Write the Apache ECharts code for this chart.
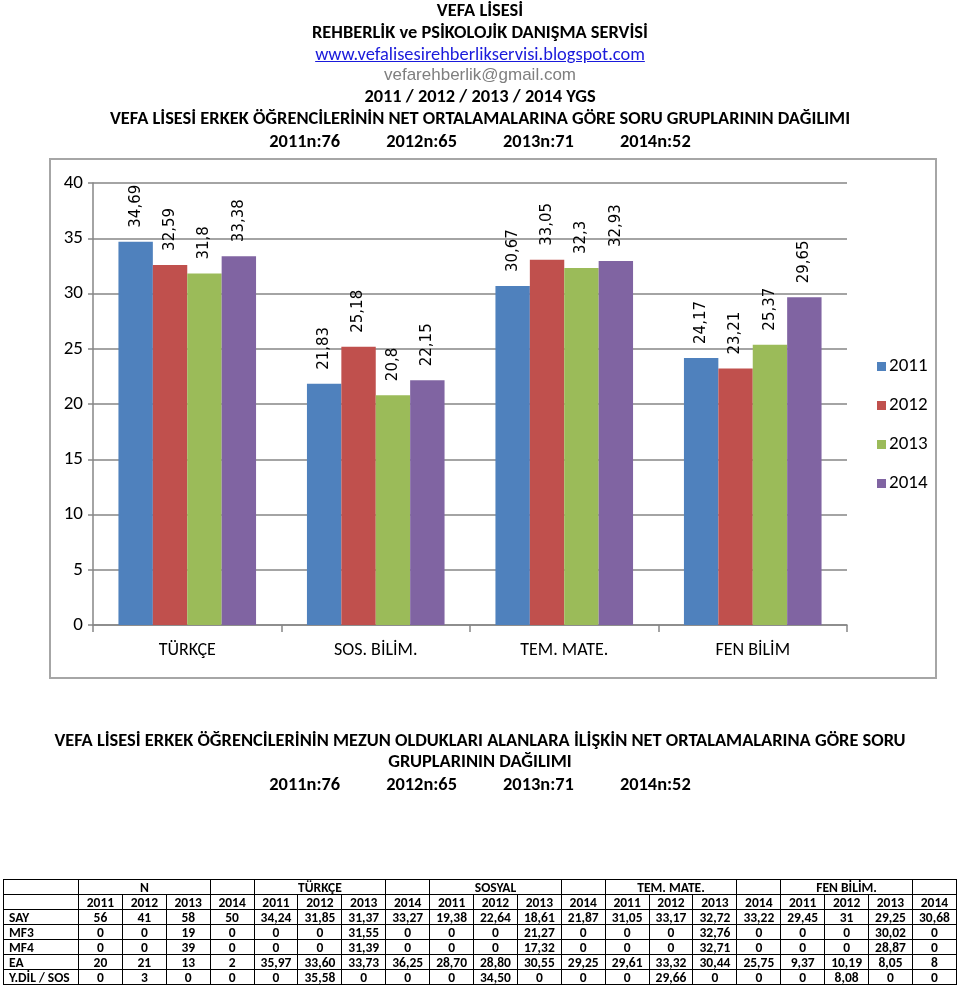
<!DOCTYPE html>
<html><head><meta charset="utf-8">
<script src="https://cdn.jsdelivr.net/npm/echarts@6/dist/echarts.min.js"></script>
<style>
html,body{margin:0;padding:0;background:#fff;}
body{width:960px;height:986px;position:relative;overflow:hidden;font-family:Carlito,"Liberation Sans Narrow","Open Sans",sans-serif;}
#chart{position:absolute;left:0;top:0;width:960px;height:986px;}
.t{position:absolute;left:0;width:960px;text-align:center;font-weight:bold;font-size:18.4px;color:#000;white-space:nowrap;line-height:20px;z-index:2;}
.t span.n{display:inline-block;margin:0 23px;}
#tbl{position:absolute;left:3px;top:879px;width:954px;border-collapse:collapse;table-layout:fixed;z-index:2;font-weight:bold;font-size:13.5px;}
#tbl td{border:1px solid #000;height:14px;padding:0;text-align:center;line-height:13px;white-space:nowrap;overflow:hidden;}
#tbl td.l{text-align:left;padding-left:5px;}
</style></head>
<body>
<div id="chart"></div>
<div class="t" style="top:0px">VEFA LİSESİ</div>
<div class="t" style="top:22px">REHBERLİK ve PSİKOLOJİK DANIŞMA SERVİSİ</div>
<div class="t" style="top:44px;font-weight:normal;color:#1a1adb;text-decoration:underline;">www.vefalisesirehberlikservisi.blogspot.com</div>
<div class="t" style="top:65px;font-weight:normal;color:#7f7f7f;font-family:'Liberation Sans',Arial,sans-serif;font-size:17px;">vefarehberlik@gmail.com</div>
<div class="t" style="top:86px">2011 / 2012 / 2013 / 2014 YGS</div>
<div class="t" style="top:108px">VEFA LİSESİ ERKEK ÖĞRENCİLERİNİN NET ORTALAMALARINA GÖRE SORU GRUPLARININ DAĞILIMI</div>
<div class="t" id="n1" style="top:131px"></div>
<div class="t" style="top:730px">VEFA LİSESİ ERKEK ÖĞRENCİLERİNİN MEZUN OLDUKLARI ALANLARA İLİŞKİN NET ORTALAMALARINA GÖRE SORU</div>
<div class="t" style="top:751px">GRUPLARININ DAĞILIMI</div>
<div class="t" id="n2" style="top:774px"></div>
<table id="tbl"></table>
<script>
// ---- chart data ----
const categories = ['TÜRKÇE', 'SOS. BİLİM.', 'TEM. MATE.', 'FEN BİLİM'];
const seriesNames = ['2011', '2012', '2013', '2014'];
const values2011 = [34.69, 21.83, 30.67, 24.17];
const values2012 = [32.59, 25.18, 33.05, 23.21];
const values2013 = [31.8, 20.8, 32.3, 25.37];
const values2014 = [33.38, 22.15, 32.93, 29.65];
const sampleSizes = ['2011n:76', '2012n:65', '2013n:71', '2014n:52'];

// ---- table data ----
const tableGroups = ['N', 'TÜRKÇE', 'SOSYAL', 'TEM. MATE.', 'FEN BİLİM.'];
const tableYears = ['2011', '2012', '2013', '2014'];
const tableRows = ['SAY', 'MF3', 'MF4', 'EA', 'Y.DİL / SOS'];
const tableN = [['56','41','58','50'],['0','0','19','0'],['0','0','39','0'],['20','21','13','2'],['0','3','0','0']];
const tableTurkce = [['34,24','31,85','31,37','33,27'],['0','0','31,55','0'],['0','0','31,39','0'],['35,97','33,60','33,73','36,25'],['0','35,58','0','0']];
const tableSosyal = [['19,38','22,64','18,61','21,87'],['0','0','21,27','0'],['0','0','17,32','0'],['28,70','28,80','30,55','29,25'],['0','34,50','0','0']];
const tableTemMate = [['31,05','33,17','32,72','33,22'],['0','0','32,76','0'],['0','0','32,71','0'],['29,61','33,32','30,44','25,75'],['0','29,66','0','0']];
const tableFen = [['29,45','31','29,25','30,68'],['0','0','30,02','0'],['0','0','28,87','0'],['9,37','10,19','8,05','8'],['0','8,08','0','0']];

// sample size lines
['n1','n2'].forEach(id => {
  document.getElementById(id).innerHTML = sampleSizes.map(s => '<span class="n">' + s + '</span>').join('');
});

// table
(function(){
  const groupsData = [tableN, tableTurkce, tableSosyal, tableTemMate, tableFen];
  let h = '<colgroup><col style="width:75px">';
  for (let i = 0; i < 20; i++) h += '<col>';
  h += '</colgroup>';
  h += '<tr><td></td>';
  tableGroups.forEach(g => { h += '<td colspan="3">' + g + '</td><td></td>'; });
  h += '</tr><tr><td></td>';
  tableGroups.forEach(() => { tableYears.forEach(y => { h += '<td>' + y + '</td>'; }); });
  h += '</tr>';
  tableRows.forEach((r, ri) => {
    h += '<tr><td class="l">' + r + '</td>';
    groupsData.forEach(g => { g[ri].forEach(v => { h += '<td>' + v + '</td>'; }); });
    h += '</tr>';
  });
  document.getElementById('tbl').innerHTML = h;
})();

const colors = ['#4F81BD', '#C0504D', '#9BBB59', '#8064A2'];
const calibri = 'Carlito, "Liberation Sans Narrow", "Open Sans", sans-serif';
const allValues = [values2011, values2012, values2013, values2014];

const chart = echarts.init(document.getElementById('chart'), null, {renderer: 'canvas'});
chart.setOption({
  animation: false,
  color: colors,
  graphic: [{
    type: 'rect', z: -1,
    shape: {x: 50, y: 159, width: 886, height: 519},
    style: {fill: '#fff', stroke: '#a6a6a6', lineWidth: 2}
  }],
  legend: {
    orient: 'vertical', left: 872, top: 352,
    itemWidth: 9, itemHeight: 9, itemGap: 20,
    icon: 'rect',
    textStyle: {fontFamily: calibri, fontSize: 19, color: '#000', padding: [0,0,0,-2]},
    data: seriesNames
  },
  grid: {left: 93, top: 183, right: 113, bottom: 361},
  xAxis: {
    type: 'category', data: categories,
    axisLine: {lineStyle: {color: '#868686', width: 1.5}},
    axisTick: {show: true, length: 7, lineStyle: {color: '#868686', width: 1.5}},
    axisLabel: {fontFamily: calibri, fontSize: 18, color: '#000', margin: 16}
  },
  yAxis: {
    type: 'value', min: 0, max: 40, interval: 5,
    axisLine: {show: true, lineStyle: {color: '#868686', width: 1.5}},
    axisTick: {show: true, length: 5, lineStyle: {color: '#868686', width: 1.5}},
    axisLabel: {fontFamily: calibri, fontSize: 19, color: '#000', margin: 10},
    splitLine: {lineStyle: {color: '#868686', width: 1.5}}
  },
  series: seriesNames.map((name, i) => ({
    name: name, type: 'bar', data: allValues[i],
    barGap: '0%', barCategoryGap: '27%',
    label: {
      show: true, position: 'top', rotate: 90, align: 'left', verticalAlign: 'middle',
      distance: 14, fontFamily: 'DejaVu Sans', fontSize: 15, color: '#000',
      formatter: p => String(p.value).replace('.', ',')
    }
  }))
});
</script>
</body></html>
